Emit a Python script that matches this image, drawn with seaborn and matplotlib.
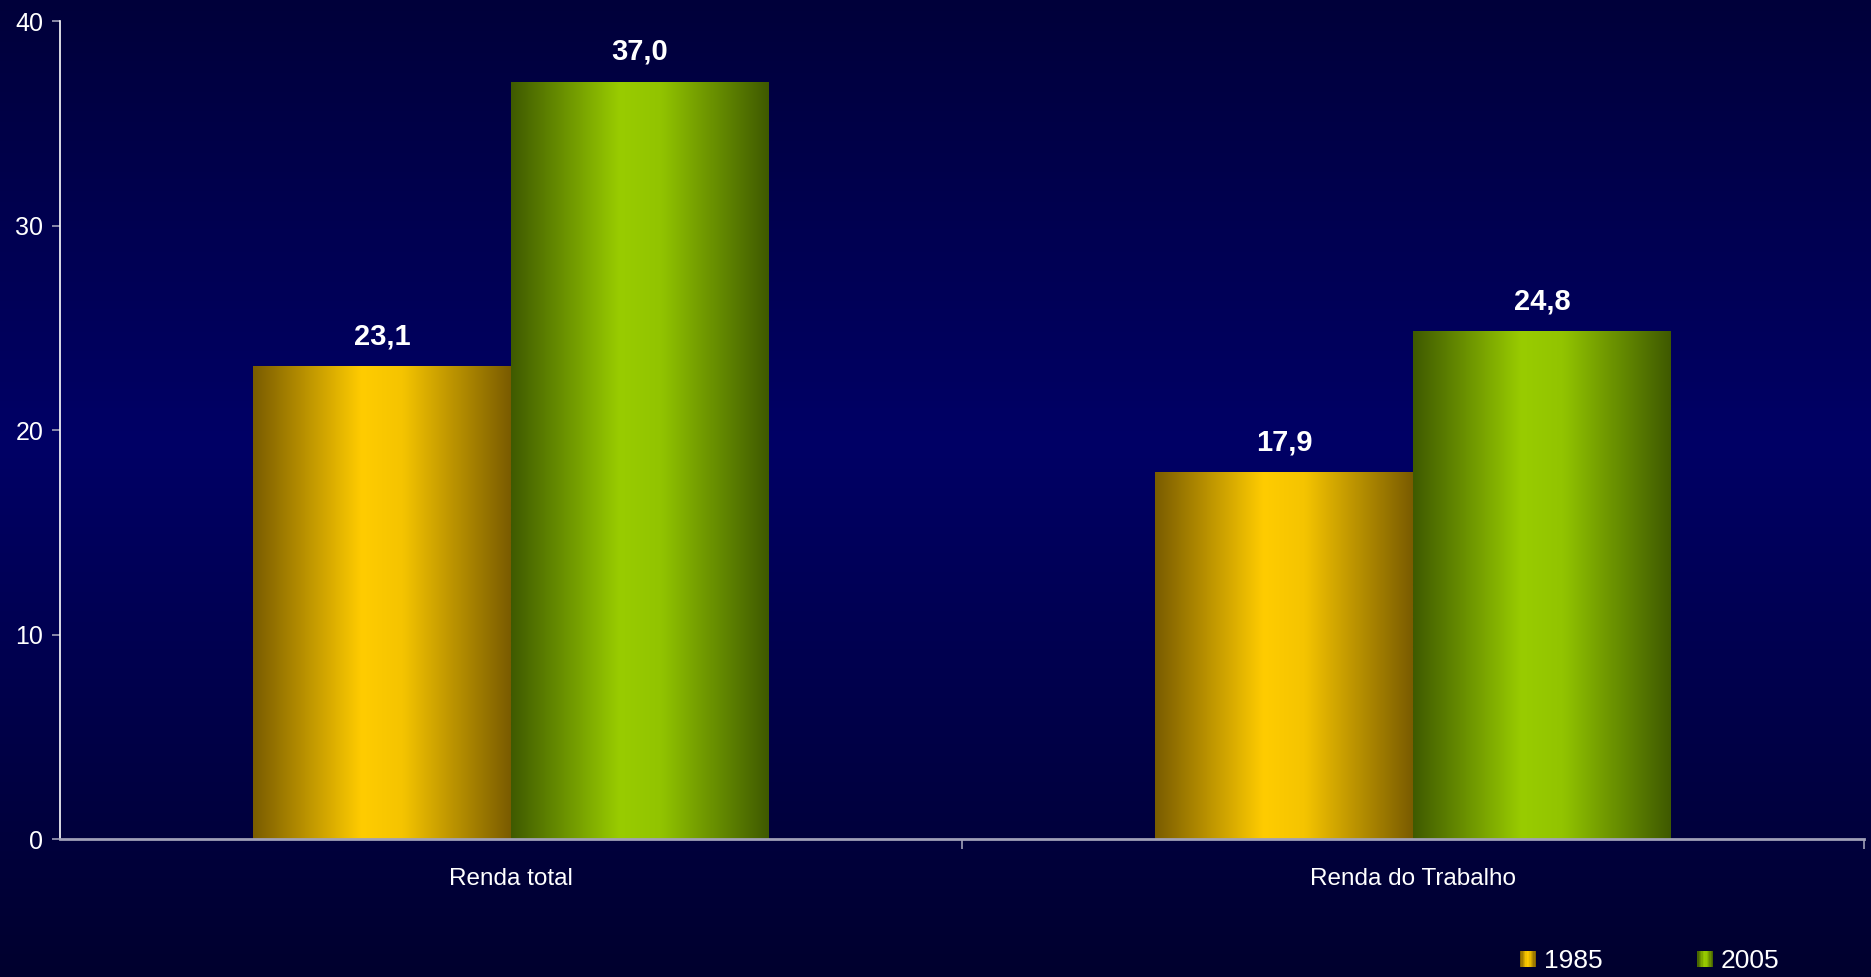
import numpy as np
import pandas as pd
import matplotlib
matplotlib.use("Agg")
import matplotlib.pyplot as plt
from matplotlib.colors import LinearSegmentedColormap
from matplotlib.patches import Rectangle
from matplotlib.legend_handler import HandlerBase
import seaborn as sns

# ── Data ─────────────────────────────────────────────────────────────────────
categories = ["Renda total", "Renda do Trabalho"]
years      = ["1985", "2005"]
values_1985 = [23.1, 17.9]
values_2005 = [37.0, 24.8]

df = pd.DataFrame({
    "categoria": categories * 2,
    "ano": [years[0]] * 2 + [years[1]] * 2,
    "valor": values_1985 + values_2005,
})

# ── Colours ──────────────────────────────────────────────────────────────────
grad_cmaps = {
    "1985": LinearSegmentedColormap.from_list(
        "y", [(0, "#7a5c00"), (0.42, "#ffcc00"), (0.58, "#f5c400"), (1, "#7a5c00")]),
    "2005": LinearSegmentedColormap.from_list(
        "g", [(0, "#3f5a00"), (0.42, "#99cc00"), (0.58, "#92c400"), (1, "#3f5a00")]),
}
bg_cmap = LinearSegmentedColormap.from_list(
    "bg", [(0, "#00003a"), (0.45, "#000066"), (1, "#00002e")])

sns.set_style("white")
plt.rcParams["font.family"] = ["Liberation Sans", "DejaVu Sans"]

fig = plt.figure(figsize=(18.71, 9.77), dpi=100)

# background gradient
bg = fig.add_axes([0, 0, 1, 1], zorder=-10)
bg.imshow(np.linspace(0, 1, 256).reshape(-1, 1), cmap=bg_cmap, aspect="auto",
          extent=[0, 1, 0, 1])
bg.axis("off")

ax = fig.add_axes([0.0321, 0.1412, 0.9642, 0.8373])
ax.set_facecolor("none")

sns.barplot(data=df, x="categoria", y="valor", hue="ano", hue_order=years,
            order=categories, width=0.572, legend=False, ax=ax)

grad = np.linspace(0, 1, 256).reshape(1, -1)
for year, cont in zip(years, ax.containers):
    for bar in cont:
        x0, y0 = bar.get_x(), bar.get_y()
        w, h = bar.get_width(), bar.get_height()
        bar.set_facecolor("none")
        bar.set_edgecolor("none")
        ax.imshow(grad, cmap=grad_cmaps[year], aspect="auto",
                  extent=[x0, x0 + w, y0, y0 + h], zorder=2)
        ax.text(x0 + w / 2, h + 0.8, f"{h:.1f}".replace(".", ","),
                ha="center", va="bottom", color="white",
                fontsize=21, fontweight="bold")

ax.set_xlim(-0.5, 1.5)
ax.set_ylim(0, 40)
ax.set_yticks([0, 10, 20, 30, 40])
ax.set_xlabel("")
ax.set_ylabel("")

ax.tick_params(axis="y", colors="#a0a0b8", labelcolor="white", labelsize=18,
               length=6, width=1.2, left=True, pad=6)
ax.set_xticks([0, 1])
ax.set_xticklabels(categories)
ax.tick_params(axis="x", which="major", length=0, labelcolor="white",
               labelsize=17.5, pad=21)
ax.set_xticks([0.5, 1.5], minor=True)
ax.tick_params(axis="x", which="minor", length=7, width=1.2,
               color="#a0a0b8", bottom=True)

for side in ["top", "right"]:
    ax.spines[side].set_visible(False)
ax.spines["left"].set_color("white")
ax.spines["left"].set_linewidth(1.2)
ax.spines["bottom"].set_color("#a0a0b8")
ax.spines["bottom"].set_linewidth(2)


# ── Legend with gradient swatches ────────────────────────────────────────────
class GradientHandler(HandlerBase):
    def __init__(self, cmap):
        super().__init__()
        self.cmap = cmap

    def create_artists(self, legend, orig_handle, xdescent, ydescent,
                       width, height, fontsize, trans):
        n = 12
        side_h = height * 0.85
        x0 = -xdescent
        y0 = -ydescent + (height - side_h) / 2
        arts = []
        for i in range(n):
            r = Rectangle((x0 + i * width / n, y0), width / n + 0.2, side_h,
                          facecolor=self.cmap((i + 0.5) / n),
                          edgecolor="none", transform=trans)
            arts.append(r)
        return arts


handles = [Rectangle((0, 0), 1, 1) for _ in years]
leg = fig.legend(handles, years, loc="center left",
                 bbox_to_anchor=(1520 / 1871, 1 - 961 / 977),
                 ncol=2, frameon=False, fontsize=19, labelcolor="white",
                 borderpad=0, borderaxespad=0,
                 handlelength=0.6, handletextpad=0.3, columnspacing=3.6,
                 handler_map={h: GradientHandler(grad_cmaps[y])
                              for h, y in zip(handles, years)})

fig.savefig("out.png", dpi=100)
